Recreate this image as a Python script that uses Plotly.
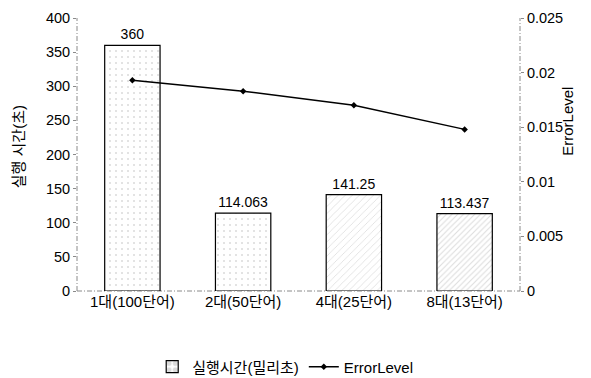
import plotly.graph_objects as go

categories = ["1대(100단어)", "2대(50단어)", "4대(25단어)", "8대(13단어)"]
exec_time = [360, 114.063, 141.25, 113.437]
exec_labels = ["360", "114.063", "141.25", "113.437"]
error_level = [0.0193, 0.0183, 0.0170, 0.0148]

FONT = "Liberation Sans, Arial, Noto Sans CJK KR, sans-serif"
AXIS_GRAY = "#8a8a8a"

fig = go.Figure()
fig.add_trace(go.Bar(
    x=categories, y=exec_time, name="실행시간(밀리초)",
    text=exec_labels, textposition="outside", cliponaxis=False,
    textfont=dict(size=14, color="black", family=FONT),
    marker=dict(color="white", line=dict(color="black", width=1.2),
                pattern=dict(shape=[".", ".", "/", "/"], fgcolor="#b8b8b8",
                             bgcolor="white", size=[6, 6, 5, 4],
                             solidity=[0.1, 0.1, 0.15, 0.25])),
))
fig.add_trace(go.Scatter(
    x=categories, y=error_level, name="ErrorLevel", yaxis="y2",
    mode="lines+markers", line=dict(color="black", width=1.5),
    marker=dict(symbol="diamond", size=5, color="black"),
))

axis_common = dict(showgrid=False, zeroline=False, showline=False,
                   ticks="outside", ticklen=3, tickcolor=AXIS_GRAY,
                   automargin=False,
                   tickfont=dict(size=14.5, color="black", family=FONT))

# dashed axis lines like the scanned original
axis_lines = [
    dict(type="line", xref="paper", yref="paper", x0=0, x1=0, y0=0, y1=1),
    dict(type="line", xref="paper", yref="paper", x0=1, x1=1, y0=0, y1=1),
    dict(type="line", xref="paper", yref="paper", x0=0, x1=1, y0=0, y1=0),
]
for s in axis_lines:
    s["line"] = dict(color=AXIS_GRAY, width=1, dash="5px,2px,1px,2px")
    s["layer"] = "below"

# page body has an 8px margin, so the figure is placed at (8, 8)
fig.update_layout(
    width=583, height=370,
    margin=dict(l=69, r=71, t=10, b=87, autoexpand=False),
    paper_bgcolor="white", plot_bgcolor="white",
    font=dict(family=FONT, size=14, color="black"),
    bargap=0.5,
    showlegend=True,
    legend=dict(orientation="h", x=0.47, xanchor="center",
                y=-0.278, yanchor="middle",
                font=dict(size=15, color="black"), itemwidth=30,
                tracegroupgap=0, bgcolor="rgba(0,0,0,0)"),
    xaxis=dict(showgrid=False, showline=False, automargin=False,
               tickfont=dict(size=15, family=FONT, color="black"), ticks=""),
    yaxis=dict(range=[0, 400], dtick=50, **axis_common),
    yaxis2=dict(range=[0, 0.025], dtick=0.005, overlaying="y", side="right",
                tickformat="~g", **axis_common),
    shapes=axis_lines,
    annotations=[
        dict(text="실행 시간(초)", xref="paper", yref="paper",
             x=-0.133, y=0.527, xanchor="center", yanchor="middle",
             textangle=-90, showarrow=False,
             font=dict(size=15, color="black", family=FONT)),
        dict(text="ErrorLevel", xref="paper", yref="paper",
             x=1.108, y=0.623, xanchor="center", yanchor="middle",
             textangle=-90, showarrow=False,
             font=dict(size=15, color="black", family=FONT)),
    ],
)

fig.write_html("out.html")
